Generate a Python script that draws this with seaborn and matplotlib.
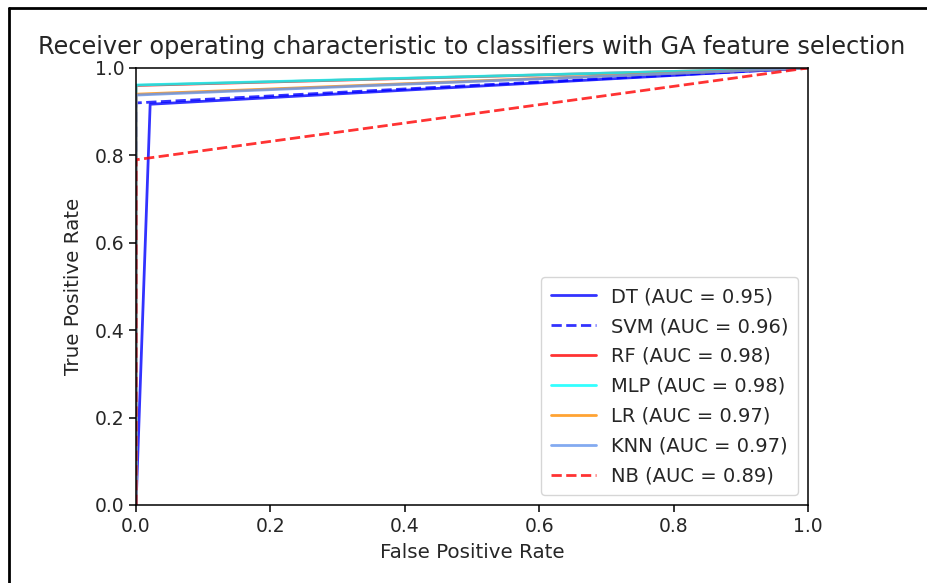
import matplotlib
matplotlib.use("Agg")
import matplotlib.pyplot as plt
import seaborn as sns
import pandas as pd
from matplotlib.lines import Line2D

names = ["DT", "SVM", "RF", "MLP", "LR", "KNN", "NB"]
aucs = [0.95, 0.96, 0.98, 0.98, 0.97, 0.97, 0.89]
fpr = {
    "DT": [0.0, 0.021, 1.0],
    "SVM": [0.0, 0.0, 1.0],
    "RF": [0.0, 0.0, 1.0],
    "MLP": [0.0, 0.0, 1.0],
    "LR": [0.0, 0.0, 1.0],
    "KNN": [0.0, 0.0, 1.0],
    "NB": [0.0, 0.0, 1.0],
}
tpr = {
    "DT": [0.0, 0.917, 1.0],
    "SVM": [0.0, 0.92, 1.0],
    "RF": [0.0, 0.96, 1.0],
    "MLP": [0.0, 0.961, 1.0],
    "LR": [0.0, 0.94, 1.0],
    "KNN": [0.0, 0.938, 1.0],
    "NB": [0.0, 0.79, 1.0],
}
colors = ["blue", "blue", "red", "aqua", "darkorange", "cornflowerblue", "red"]
styles = ["-", "--", "-", "-", "-", "-", "--"]

sns.set_style("ticks")
plt.rcParams["font.family"] = ["DejaVu Sans"]

fig = plt.figure(figsize=(9.28, 5.83), dpi=100)
ax = fig.add_axes([0.1466, 0.1338, 0.8707 - 0.1466, 0.8834 - 0.1338])

for name, auc, c, ls in zip(names, aucs, colors, styles):
    df = pd.DataFrame({"x": fpr[name], "y": tpr[name]})
    sns.lineplot(data=df, x="x", y="y", ax=ax, color=c, linestyle=ls, lw=2.0,
                 alpha=0.8, sort=False, estimator=None,
                 label=f"{name} (AUC = {auc:.2f})")

ax.set_xlim(0, 1)
ax.set_ylim(0, 1)
ax.set_xticks([0, 0.2, 0.4, 0.6, 0.8, 1.0])
ax.set_yticks([0, 0.2, 0.4, 0.6, 0.8, 1.0])
ax.tick_params(labelsize=13.5, length=5, width=1.1, colors="black", labelcolor="#262626")
for s in ax.spines.values():
    s.set_color("black")
    s.set_linewidth(1.1)
    s.set_zorder(3)
ax.set_xlabel("False Positive Rate", fontsize=14.3, labelpad=5)
ax.set_ylabel("True Positive Rate", fontsize=14.3, labelpad=8)
ax.set_title("Receiver operating characteristic to classifiers with GA feature selection",
             fontsize=17.3, pad=10)
leg = ax.legend(loc="lower right", fontsize=14, handlelength=2.3, borderpad=0.5,
                labelspacing=0.56, handletextpad=0.8)
leg.get_frame().set_edgecolor("#cccccc")

# screenshot border (left and top)
fig.add_artist(Line2D([9 / 928, 9 / 928], [0, 1 - 7.5 / 583], transform=fig.transFigure,
                      color="black", lw=2))
fig.add_artist(Line2D([9 / 928, 1], [1 - 7.5 / 583, 1 - 7.5 / 583], transform=fig.transFigure,
                      color="black", lw=2))

fig.savefig("out.png", dpi=100)
